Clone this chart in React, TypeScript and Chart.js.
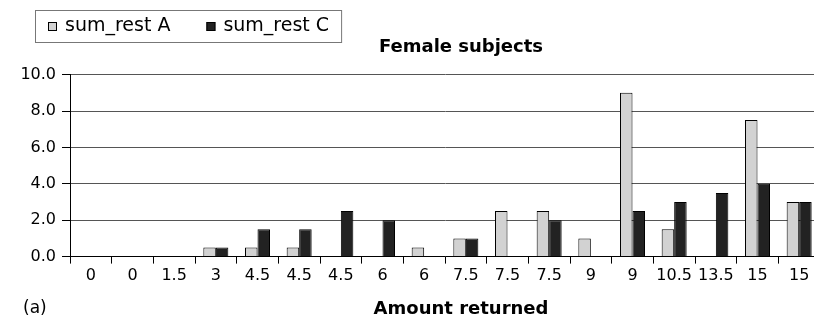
import React, { useEffect, useRef } from "react";
import { Chart, registerables } from "chart.js";

Chart.register(...registerables);

const categories = ["0", "0", "1.5", "3", "4.5", "4.5", "4.5", "6", "6", "7.5", "7.5", "7.5", "9", "9", "10.5", "13.5", "15", "15"];
const sumRestA = [0, 0, 0, 0.5, 0.5, 0.5, 0, 0, 0.5, 1.0, 2.5, 2.5, 1.0, 9.0, 1.5, 0, 7.5, 3.0];
const sumRestC = [0, 0, 0, 0.5, 1.5, 1.5, 2.5, 2.0, 0, 1.0, 0, 2.0, 0, 2.5, 3.0, 3.5, 4.0, 3.0];
const seriesLabels = ["sum_rest A", "sum_rest C"];
const chartTitle = "Female subjects";
const xTitle = "Amount returned";
const panelTag = "(a)";

const FONT = "'DejaVu Sans', sans-serif";

const legendPlugin = {
  id: "boxLegend",
  afterDraw(chart: any) {
    const ctx = chart.ctx;
    ctx.save();
    ctx.font = `19px ${FONT}`;
    ctx.textBaseline = "middle";
    ctx.textAlign = "left";
    const y = 26;
    let x = 48;
    let lastEnd = x;
    chart.data.datasets.forEach((ds: any) => {
      ctx.fillStyle = ds.backgroundColor;
      ctx.fillRect(x, y - 4, 9, 9);
      ctx.strokeStyle = "#000";
      ctx.lineWidth = 1;
      ctx.strokeRect(x + 0.5, y - 3.5, 8, 8);
      ctx.fillStyle = "#000";
      ctx.fillText(ds.label, x + 17, y);
      const w = ctx.measureText(ds.label).width;
      lastEnd = x + 17 + w;
      x = lastEnd + 36;
    });
    ctx.strokeStyle = "#777";
    ctx.lineWidth = 1;
    ctx.strokeRect(35.5, 10.5, lastEnd + 12 - 35, 32);
    ctx.restore();
  },
};

const tagPlugin = {
  id: "panelTag",
  afterDraw(chart: any) {
    const ctx = chart.ctx;
    ctx.save();
    ctx.font = `17px ${FONT}`;
    ctx.fillStyle = "#000";
    ctx.textBaseline = "middle";
    ctx.textAlign = "left";
    ctx.fillText(panelTag, 23, 309);
    ctx.restore();
  },
};

export default function App() {
  const ref = useRef<HTMLCanvasElement | null>(null);

  useEffect(() => {
    if (!ref.current) return;
    Chart.defaults.font.family = FONT;
    Chart.defaults.color = "#000";
    const chart = new Chart(ref.current, {
      type: "bar",
      data: {
        labels: categories,
        datasets: [
          {
            label: seriesLabels[0],
            data: sumRestA,
            backgroundColor: "#d2d2d2",
            borderColor: "#000",
            borderWidth: 1,
            borderSkipped: "start",
          },
          {
            label: seriesLabels[1],
            data: sumRestC,
            backgroundColor: "#222222",
            borderColor: "#000",
            borderWidth: 1,
            borderSkipped: "start",
          },
        ],
      },
      options: {
        responsive: false,
        animation: false,
        devicePixelRatio: 1,
        layout: { padding: 0 },
        datasets: {
          bar: { categoryPercentage: 0.6, barPercentage: 1.0 },
        },
        plugins: {
          legend: { display: false },
          tooltip: { enabled: false },
          title: {
            display: true,
            text: chartTitle,
            color: "#000",
            font: { size: 18, weight: "bold", family: FONT },
            padding: { top: 37, bottom: 16 },
          },
          subtitle: {
            display: true,
            position: "bottom",
            text: xTitle,
            color: "#000",
            font: { size: 18, weight: "bold", family: FONT, lineHeight: 0.8 },
            padding: { top: 0, bottom: 0 },
          },
        },
        scales: {
          x: {
            offset: true,
            grid: {
              offset: true,
              drawOnChartArea: false,
              drawTicks: true,
              tickLength: 7,
              color: "#000",
              tickColor: "#000",
            },
            border: { color: "#000", width: 1 },
            ticks: {
              color: "#000",
              font: { size: 16, family: FONT },
              padding: 3,
              maxRotation: 0,
              autoSkip: false,
            },
            afterFit(scale: any) {
              scale.height = 46;
            },
          },
          y: {
            min: 0,
            max: 10,
            grid: {
              color: "#555",
              tickColor: "#000",
              drawTicks: true,
              tickLength: 8,
            },
            border: { color: "#000", width: 1 },
            ticks: {
              stepSize: 2,
              color: "#000",
              font: { size: 16, family: FONT },
              padding: 6,
              callback: (v: any) => Number(v).toFixed(1),
            },
            afterFit(scale: any) {
              scale.width = 70;
            },
          },
          spacer: {
            type: "linear",
            position: "right",
            display: true,
            grid: { display: false, drawTicks: false },
            border: { display: false },
            ticks: { display: false },
            afterFit(scale: any) {
              scale.width = 102;
            },
          },
        },
      },
      plugins: [legendPlugin, tagPlugin],
    } as any);
    return () => chart.destroy();
  }, []);

  return (
    <div style={{ position: "absolute", left: 0, top: 0, width: 814, height: 317, overflow: "hidden", background: "#fff" }}>
      <canvas ref={ref} width={922} height={317} style={{ display: "block" }} />
    </div>
  );
}
